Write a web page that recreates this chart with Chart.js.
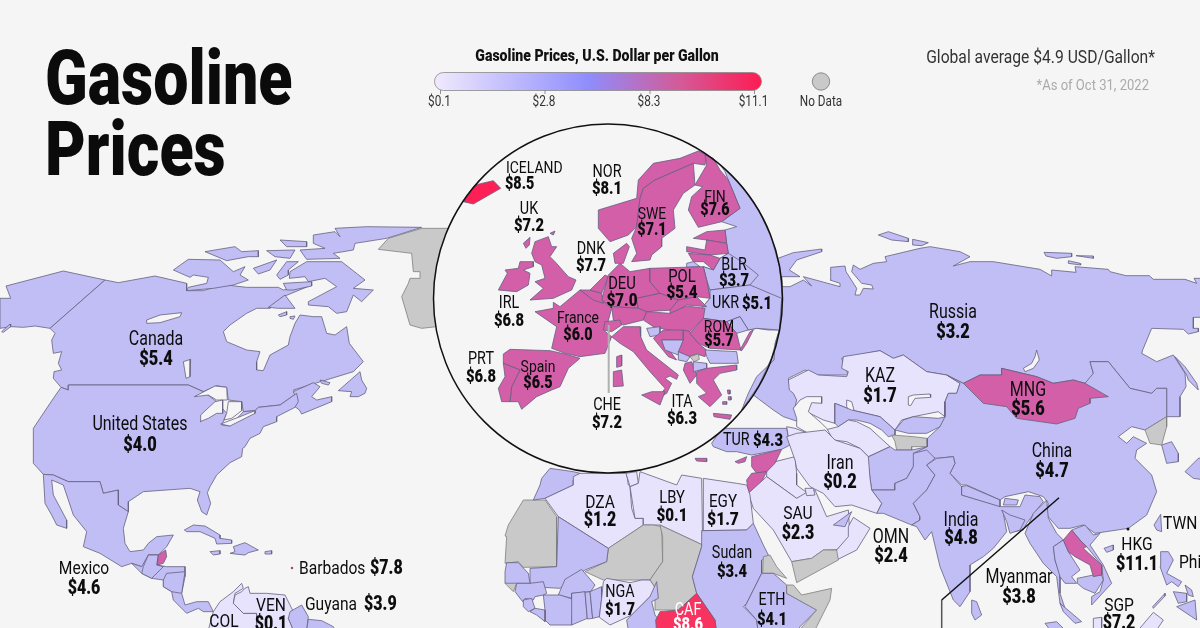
<!DOCTYPE html>
<html>
<head>
<meta charset="utf-8">
<title>Gasoline Prices</title>
<script src="https://cdn.jsdelivr.net/npm/chart.js@4/dist/chart.umd.js"></script>
<style>
  html, body { margin: 0; padding: 0; background: #f5f5f5; }
  canvas { display: block; }
</style>
</head>
<body>
<canvas id="mapChart" width="1200" height="628"></canvas>
<script>
// --- DATA ---
const countries = ['Canada', 'United States', 'Mexico', 'Barbados', 'Guyana', 'VEN', 'COL', 'Russia', 'KAZ', 'MNG', 'China', 'India', 'Iran', 'SAU', 'OMN', 'Myanmar', 'HKG', 'SGP', 'TUR', 'DZA', 'LBY', 'EGY', 'Sudan', 'ETH', 'NGA', 'CAF', 'ICELAND', 'NOR', 'FIN', 'SWE', 'UK', 'DNK', 'BLR', 'DEU', 'POL', 'UKR', 'IRL', 'France', 'ROM', 'PRT', 'Spain', 'CHE', 'ITA'];
const prices = [5.37, 4.0, 4.6, 7.8, 3.9, 0.1, 1.2, 3.2, 1.7, 5.6, 4.7, 4.8, 0.2, 2.3, 2.4, 3.8, 11.1, 7.2, 4.3, 1.2, 0.1, 1.7, 3.4, 4.1, 1.7, 8.6, 8.5, 8.1, 7.6, 7.1, 7.2, 7.7, 3.7, 7.0, 5.42, 5.1, 6.8, 6.0, 5.7, 6.8, 6.5, 7.2, 6.3];
// countries with no label on the picture, price only estimated from the fill
const otherAreas = ['Light area', 'Lavender area', 'Pink area'];
const otherPrices = [1.5, 4.0, 6.5];
const legendTicks = ['$0.1', '$2.8', '$8.3', '$11.1'];
const priceBreaks = [2.8, 5.4, 8.3];

// the outlines are traced on 3x crops, each with its own origin on the 1200x628 map
const sheet = (ox, oy) => flat => {
    const pts = [];
    for (let i = 0; i < flat.length; i += 2) pts.push({ x: ox + flat[i] / 3, y: oy + flat[i + 1] / 3 });
    return pts;
};
const A = sheet(0, 200), B = sheet(420, 130), C = sheet(480, 430), D = sheet(780, 220);
const E = sheet(1000, 480), F = sheet(500, 540), H = sheet(740, 220), I = sheet(1040, 220);

const worldShapes = [
    // North America
    ['Lavender area', A([0,295,32,295,18,258,190,213,315,240,150,385,105,378,70,382,35,380,0,385])],
    ['Lavender area', A([5,395,30,372,32,380,10,397])],
    ['Canada', A([315,240,355,248,465,228,560,250,560,272,610,272,640,262,680,255,740,262,780,262,835,262,850,270,925,255,935,255,850,290,810,325,770,325,740,340,690,375,670,395,680,425,740,450,780,455,770,485,770,510,790,512,810,465,865,435,870,410,885,370,900,345,940,350,965,350,980,400,1005,405,1040,380,1048,430,1090,485,1060,515,880,570,890,580,840,615,775,622,765,632,730,635,725,605,685,600,680,562,650,557,610,575,565,555,205,555,205,570,183,562,160,535,162,515,185,510,175,490,185,455,160,460,155,420,165,400,150,385])],
    ['Canada', A([520,210,565,178,660,180,700,215,735,200,720,225,745,240,700,255,640,265,560,272,565,262,620,250,625,232,580,225,570,232])],
    ['Canada', A([615,155,705,140,725,155,775,152,775,170,745,170,680,182])],
    ['Canada', A([760,205,830,180,810,210,775,222])],
    ['Canada', A([800,152,885,150,870,175,825,170])],
    ['Canada', A([840,120,920,125,920,140,860,140])],
    ['Canada', A([940,105,1005,95,1020,110,1005,85,1100,80,1265,82,1160,115,1065,130,1060,150,1000,160,1020,175,920,178,900,150,975,145,940,130])],
    ['Canada', A([870,215,920,185,1025,185,1095,240,1060,265,1120,270,1085,305,1060,285,1040,335,1010,340,985,320,925,315,925,305,1010,260,975,235,925,245,915,230,868,235])],
    ['Canada', A([830,225,860,185,895,185,865,210,865,225,840,238])],
    ['Canada', A([850,250,935,245,935,258,880,270,860,270])],
    ['Canada', A([805,322,855,285,885,325,835,325])],
    ['Canada', A([835,345,860,335,860,345,840,350])],
    ['Canada', A([870,350,885,348,880,358,870,355])],
    ['Canada', A([1015,572,1080,515,1085,540,1100,565,1095,580,1075,590,1050,590,1055,575])],
    ['Canada', A([880,575,940,548,960,560,935,590,950,600,995,590,995,605,905,642,898,630,885,620,890,600])],
    ['Canada', A([960,540,990,548,985,555,965,550])],
    ['water', A([440,360,480,345,545,338,540,350,480,368,440,370])],
    ['water', A([550,485,572,478,570,530,558,535])],
    ['United States', A([183,562,205,570,205,555,565,555,610,575,650,605,680,640,672,660,665,675,690,678,730,635,765,632,775,622,840,615,890,580,895,605,885,622,830,650,830,665,790,680,780,700,750,715,735,740,728,745,725,770,690,788,650,825,630,860,622,878,632,910,620,945,605,935,592,900,600,875,570,865,500,870,430,875,385,905,385,935,355,915,355,870,310,880,300,845,205,845,160,825,130,823,100,790,100,685,150,610])],
    ['water', A([583,590,645,558,680,562,682,600,650,600,625,585])],
    ['water', A([600,665,602,645,645,605,668,600,668,640,650,640,625,655])],
    ['water', A([685,605,725,605,725,632,695,655,672,660,680,640])],
    ['water', A([662,672,720,650,765,632,765,640,690,678])],
    ['Mexico', A([130,823,160,825,205,845,300,845,310,880,355,870,355,915,385,935,370,985,375,1030,390,1055,430,1050,445,1030,470,1010,520,1005,500,1040,475,1065,445,1065,440,1090,425,1100,395,1090,365,1100,300,1060,250,1040,260,995,220,945,190,855,155,840,160,885,200,960,200,985,170,975,155,945,135,910])],
    ['Lavender area', A([395,1090,425,1100,445,1065,475,1065,470,1095,500,1100,555,1100,555,1130,545,1180,555,1215,590,1205,625,1205,640,1235,610,1235,595,1225,560,1240,520,1200,515,1175,490,1160,490,1140,455,1135,425,1120])],
    ['Lavender area', A([425,1120,430,1100,445,1065,475,1065,470,1095,490,1100,455,1135])],
    ['Lavender area', A([490,1140,500,1120,555,1115,545,1180,515,1175,490,1160])],
    ['Pink area', A([475,1065,497,1050,500,1070,490,1090,472,1095])],
    ['Lavender area', A([553,990,580,975,615,978,660,1005,660,1015,695,1020,695,1030,650,1032,645,1015,600,995,560,995])],
    ['Lavender area', A([700,1040,735,1028,775,1050,745,1058,735,1065,705,1062,690,1060,705,1055])],
    ['Lavender area', A([630,1055,660,1052,660,1062,640,1065])],
    ['Lavender area', A([795,1055,815,1052,815,1062,795,1062])],
    // South America
    ['COL', A([625,1290,640,1235,660,1205,700,1175,725,1150,730,1165,705,1180,700,1210,730,1240,770,1240,770,1290])],
    ['VEN', A([735,1165,745,1160,750,1180,800,1180,855,1185,870,1215,880,1235,865,1255,880,1290,770,1290,770,1240,730,1240,700,1210,705,1185,725,1175])],
    ['Guyana', A([870,1235,905,1215,925,1250,920,1290,880,1290,865,1255])],
    ['Lavender area', A([925,1258,965,1262,1000,1280,1005,1290,920,1290])],
    // Greenland, the rest of it is under the circle
    ['no data', A([1135,148,1165,115,1265,85,1400,85,1400,370,1265,385,1230,375,1205,290,1225,250,1230,235,1260,235,1260,215,1240,215,1235,160])],
    // Russia and its islands
    ['Russia', [...H([100,120,160,98,245,87,245,95,170,120,148,150,180,170,125,170,125,200,150,200,190,180,215,198,190,170,300,200,300,190,270,180,272,142,315,138,318,155,350,205,345,225,360,225,370,205,400,207,395,195,365,190,335,155,340,135,360,148,400,130,440,125,435,110,540,85,570,80]),
        ...D([540,95,570,110,520,138,570,125,640,125,780,148]),
        ...I([35,168,35,150,108,157,105,140,205,148,210,155,258,167,328,167,340,178,435,178,470,190,462,175,480,175,500,175,500,292,460,292,460,325,475,325,475,335,445,342,430,328,335,325,308,390]),
        ...D([1085,400,1130,425,1180,405,1215,460,1218,500,1200,530,1200,590,1160,590,1160,505,1130,505,1115,520,1050,505,985,425,930,425,940,460,935,480,915,490,880,480,820,490,770,470,665,445,665,465,600,465,550,490,500,465,440,455,370,405,340,415,300,392]),
        ...H([305,415,325,465,230,465,195,450,145,475,150,505,190,545,160,565,190,610,130,590,100,570,40,525,0,500,0,120])]],
    ['Russia', H([415,45,445,35,505,55,505,65,455,60])],
    ['Russia', H([518,58,565,68,545,77,518,75])],
    ['Russia', I([12,97,95,100,95,110,50,115,18,108])],
    ['Russia', I([108,107,160,108,160,115])],
    ['Russia', I([85,122,120,130,122,135,85,130])],
    ['Russia', D([1185,410,1215,440,1250,490,1255,510,1225,480,1220,465])],
    ['water', D([770,390,778,420,760,445,735,455,730,445,755,430,765,410])],
    // Central Asia
    ['KAZ', D([25,480,85,450,115,465,200,470,205,455,185,445,190,410,300,392,340,415,370,405,440,455,500,465,540,490,530,520,505,520,495,545,495,590,475,575,400,590,365,600,345,630,300,590,215,570,165,550,165,610,130,600,100,585,45,560,50,540,40,520,28,510])],
    ['water', D([200,540,215,545,222,570,210,578,200,560])],
    ['water', D([385,530,400,525,450,522,452,532,405,535,392,557,385,555])],
    ['Lavender area', D([165,550,215,570,300,590,345,630,345,645,325,650,305,630,270,610,230,600,205,600,175,620,165,610])],
    ['Light area', D([135,630,175,620,205,600,230,605,270,625,330,680,265,710,240,685,200,665,160,660])],
    ['water', D([40,565,60,540,80,530,125,530,125,550,95,548,85,575,125,610,140,625,160,660,155,690,90,665,85,640,50,620,50,595])],
    ['Lavender area', D([345,630,370,600,400,590,475,595,500,590,480,620,440,640,385,640])],
    ['no data', D([335,645,400,650,440,655,442,680,395,680,395,690,350,690,345,665])],
    ['Lavender area', D([262,712,330,680,345,690,395,690,445,680,440,690,405,700,400,740,380,775,345,790,345,810,275,810,270,775])],
    // East and South Asia
    ['China', D([550,490,500,465,540,490,530,520,505,520,495,545,495,590,480,620,442,655,442,680,400,700,470,715,520,710,525,730,510,760,545,795,560,795,660,840,675,830,745,815,790,830,805,850,800,885,835,925,870,925,910,915,945,940,1045,925,1100,885,1130,815,1115,765,1065,715,1070,690,1100,670,1060,650,1040,670,1015,650,1055,620,1095,630,1160,590,1160,505,1130,505,1115,520,1050,505,985,425,930,425,940,460,915,490])],
    ['MNG', D([550,490,600,465,665,465,665,445,770,470,820,490,880,480,915,490,985,530,930,535,930,550,895,565,885,595,830,612,710,595,680,560,610,550])],
    ['no data', D([1095,630,1160,590,1160,620,1145,675,1110,670])],
    ['Lavender area', D([1145,675,1175,665,1195,700,1195,725,1160,730])],
    ['Lavender area', D([1215,755,1255,715,1275,712,1275,780,1240,775])],
    ['Lavender area', D([275,810,345,810,345,790,380,775,400,740,400,700,440,690,465,715,440,735,465,765,440,810,400,850,420,890,420,900,395,915,310,880,290,880,305,850])],
    ['India', D([440,735,470,715,520,710,525,730,510,760,545,800,545,825,665,860,720,860,735,825,780,830,790,845,770,870,740,910,730,930,700,935,690,890,670,880,680,935,640,985,610,1010,570,1035,570,1115,540,1160,520,1140,480,1040,455,935,435,960,410,920,395,915,420,900,420,890,400,850,440,810,465,765])],
    ['Lavender area', D([545,800,560,797,660,840,660,860,545,825])],
    ['Lavender area', D([675,835,715,840,710,855,670,855])],
    ['Lavender area', D([665,870,690,885,735,900,720,930,690,940,680,905])],
    ['Lavender area', D([575,1140,590,1145,605,1185,585,1200,575,1180])],
    ['Myanmar', E([100,100,140,60,145,115,170,160,190,180,160,200,165,240,180,285,180,340,200,400,180,370,170,290,130,250,90,190,75,160])],
    ['Lavender area', E([160,200,190,180,205,215,240,270,215,290,230,310,195,310,180,290,165,240])],
    ['Lavender area', E([180,370,245,425,225,430,190,395])],
    ['Lavender area', E([215,150,255,135,280,165,300,160,270,195,310,255,335,310,275,375,275,350,300,335,310,300,305,255,260,200,240,180])],
    ['Lavender area', E([232,295,280,285,305,285,310,300,285,340,250,325,232,310])],
    ['Pink area', E([190,180,215,150,240,180,260,200,250,205,305,255,305,285,280,290,270,255,225,230,205,215])],
    ['Lavender area', E([312,205,340,195,340,210,320,217])],
    ['Lavender area', E([462,135,482,103,485,155,470,150])],
    ['Lavender area', E([482,215,505,215,520,240,500,280,545,305,535,320,515,305,500,315,480,260])],
    ['Lavender area', E([520,335,560,340,560,365,535,370])],
    ['Lavender area', E([555,315,575,330,580,350,565,345])],
    ['Lavender area', E([530,380,585,360,590,420,575,410])],
    ['Lavender area', E([458,380,495,340,495,348,460,385])],
    ['Light area', E([415,450,460,397,490,420,470,450])],
    ['Light area', E([280,450,280,415,305,412,305,450])],
    ['Lavender area', E([135,430,170,425,195,450,150,450])],
    // Middle East
    ['TUR', C([695,40,725,-5,920,-5,930,45,905,58,815,75,770,65,740,65,700,50])],
    ['Light area', D([20,620,45,625,85,640,50,655,25,650])],
    ['Light area', C([860,125,885,95,945,80,950,130,950,165,990,195,975,195,950,205,860,140])],
    ['Iran', D([20,650,50,640,135,630,165,660,240,685,265,710,270,775,275,810,305,850,290,880,215,855,165,860,130,820,100,805,90,800,50,745,45,720])],
    ['Pink area', C([815,80,905,58,885,100,860,125,830,130,815,110])],
    ['Pink area', C([815,130,860,125,835,175,805,190,800,150])],
    ['SAU', C([805,190,860,140,950,205,975,190,1005,180,1040,260,1105,240,1110,320,1070,360,1030,360,995,385,935,395,880,300,820,235])],
    ['Lavender area', C([1060,285,1115,245,1095,290])],
    ['OMN', C([1120,262,1170,295,1130,360,1070,390,1030,362,1070,360,1105,320,1105,290])],
    ['no data', C([935,395,995,385,1030,360,1070,360,1075,390,950,458])],
    ['Light area', C([975,175,1000,175,1005,195,980,197])],
    ['Pink area', C([765,95,800,80,795,95,775,100])],
    ['Pink area', C([645,85,680,85,680,95,650,93])],
    // Africa
    ['no data', C([75,318,85,285,130,210,195,210,230,260,230,410,130,412,115,395,75,400,80,320])],
    ['Lavender area', C([160,210,180,165,185,145,210,115,280,125,300,130,280,150,280,165,195,205])],
    ['DZA', C([195,205,280,165,280,140,300,130,440,130,445,165,450,170,455,235,465,265,490,265,490,285,385,355,235,260])],
    ['Light area', C([438,130,470,125,475,160,450,170])],
    ['LBY', C([480,125,590,165,605,135,665,145,668,345,540,285,490,285,490,265,465,265,450,170,475,160])],
    ['EGY', C([670,145,770,160,800,165,810,195,820,280,800,300,670,302])],
    ['no data', C([385,355,490,285,520,285,545,290,548,395,520,435,510,450,370,450,315,425,380,395])],
    ['no data', C([540,285,668,345,665,350,637,440,650,490,595,540,525,540,525,510,510,450,520,435,548,395,548,320])],
    ['Lavender area', C([235,260,385,355,380,395,315,420,240,475,150,470,150,415,230,410])],
    ['Lavender area', F([15,95,20,68,55,68,85,100,90,130,15,130])],
    ['no data', F([15,130,50,130,40,155])],
    ['Lavender area', F([50,130,90,130,130,125,140,160,130,165,105,170,100,180,75,175,68,185,45,155])],
    ['Lavender area', F([175,165,195,118,245,88,285,135,272,155,215,160,215,175])],
    ['Lavender area', F([130,165,180,165,220,178,215,255,150,255,135,240,135,210])],
    ['Lavender area', F([70,180,95,175,105,205,85,215,70,200])],
    ['Lavender area', F([90,215,105,205,135,210,135,245,110,225])],
    ['Lavender area', F([215,160,255,155,262,235,215,255])],
    ['Lavender area', F([255,157,270,155,278,235,262,237])],
    ['Lavender area', F([270,155,305,140,305,175,298,230,278,235])],
    ['NGA', F([310,125,320,115,390,128,425,120,450,120,470,150,450,170,395,225,330,255,298,232,305,175])],
    ['Lavender area', F([470,125,475,175,455,185,465,225,500,270,385,270,380,240,395,225,450,170])],
    ['Sudan', C([665,302,800,300,820,280,850,345,865,375,845,390,845,430,800,520,790,530,830,570,835,610,710,610,705,570,650,490,637,440,665,350])],
    ['CAF', C([527,570,540,545,595,540,650,490,705,570,710,610,530,610])],
    ['no data', C([850,380,870,375,890,410,920,445,880,430,848,430])],
    ['ETH', C([800,520,845,430,880,430,920,465,920,490,1010,540,960,590,950,610,835,610,830,570,795,530])],
    ['no data', C([920,465,940,465,965,495,1055,475,1050,510,1010,590,1000,610,950,610,1010,540,920,490])]
];

// everything inside the round Europe inset
const insetShapes = [
    ['Russia', B([900,103,915,125,925,150,960,235,905,275,950,290,915,300,920,340,925,370,900,385,880,420,850,410,860,450,870,505,840,540,850,565,920,575,960,560,985,600,1010,595,1045,600,1078,600,1065,640,1062,690,1010,740,985,790,965,840,1017,765,1055,683,1079,595,1087,504,1079,413,1055,325,1017,242,965,168])],
    ['BLR', B([850,410,880,420,900,385,925,370,965,395,1015,435,990,465,950,470,870,480,860,450])],
    ['UKR', B([870,480,950,470,990,465,1085,505,1078,600,1010,595,985,600,960,560,920,575,850,565,840,540,870,505])],
    ['ICELAND', B([130,215,165,165,220,152,242,175,160,222])],
    ['NOR', B([535,240,650,205,655,150,700,100,780,85,835,63,860,75,855,105,820,100,705,150,670,175,660,205,650,290,625,315,570,335,535,295])],
    ['SWE', B([660,205,670,175,705,150,820,100,825,165,790,190,760,240,765,295,725,325,725,350,695,375,690,390,635,395,650,370,635,325,650,290])],
    ['FIN', B([825,165,860,105,855,75,880,85,900,120,925,150,960,235,905,275,835,292,805,240,815,200,848,170])],
    ['Pink area', B([820,325,860,305,915,300,920,340,860,330])],
    ['Pink area', B([800,350,855,360,860,330,920,340,925,370,870,375,800,365])],
    ['Pink area', B([805,370,870,375,900,385,880,420,850,395,820,395])],
    ['Lavender area', B([800,400,820,395,840,410,800,412])],
    ['DNK', B([580,370,620,340,628,350,610,400,585,400])],
    ['UK', B([335,370,345,335,385,320,395,350,410,350,390,380,405,395,445,440,468,450,455,480,400,505,330,510,370,475,345,455,375,445,365,405,345,395])],
    ['UK', B([310,340,330,322,328,345,318,355])],
    ['UK', B([390,310,405,303,400,315])],
    ['IRL', B([235,480,262,430,255,420,295,415,300,395,340,395,340,410,310,420,330,430,325,465,290,485])],
    ['France', B([345,545,400,535,400,517,420,530,480,480,545,510,575,535,560,590,550,600,575,620,555,670,480,680,435,670,395,655,410,590])],
    ['Spain', B([250,672,270,658,390,662,435,672,480,685,445,715,420,770,395,780,350,800,305,838,295,815,270,815,275,770,300,720,250,700])],
    ['PRT', B([250,700,300,720,275,770,270,815,245,815,235,775,255,740])],
    ['Pink area', B([480,480,510,480,545,490,550,520,520,510])],
    ['Pink area', B([510,480,555,435,565,440,545,490])],
    ['DEU', B([565,435,600,400,630,425,690,415,690,455,720,490,650,505,655,535,575,530,545,510,550,490])],
    ['POL', B([690,415,850,410,860,450,870,505,830,500,775,510,720,490,690,455])],
    ['Pink area', B([650,505,720,490,775,510,760,540,680,545,655,535])],
    ['Pink area', B([575,530,655,535,680,545,670,570,610,585,580,570])],
    ['CHE', B([555,575,600,570,605,585,575,605,550,600])],
    ['Pink area', B([750,540,775,510,830,500,860,530,800,525,750,555])],
    ['Pink area', B([670,570,680,545,750,550,800,528,855,535,850,565,810,605,745,600,700,590])],
    ['ITA', B([575,620,610,590,660,590,662,620,680,660,775,735,770,748,750,738,735,745,755,760,740,790,715,805,735,775,690,725,640,665,600,640])],
    ['ITA', B([665,795,695,785,735,785,720,825])],
    ['ITA', B([580,725,605,720,610,768,580,770])],
    ['France', B([590,680,605,675,605,708,590,712])],
    ['Lavender area', B([680,595,720,590,720,615,690,620])],
    ['Pink area', B([700,625,730,600,790,600,790,630,760,630,725,630,770,690,745,680])],
    ['Lavender area', B([725,630,790,630,775,675,735,660])],
    ['Pink area', B([790,600,810,605,835,640,860,660,855,680,830,672,805,680,775,665,790,630])],
    ['Lavender area', B([775,665,810,680,800,695,775,690])],
    ['no data', B([810,680,835,672,838,688,822,695])],
    ['Pink area', B([795,700,815,695,830,735,810,760,790,720])],
    ['Lavender area', B([820,695,860,700,860,715,820,725])],
    ['Lavender area', B([855,660,950,665,955,700,870,700,860,680])],
    ['Pink area', B([830,725,860,715,950,705,950,720,900,730,880,750,905,795,870,830,835,800,860,790,830,760])],
    ['Pink area', B([880,850,935,855,930,868,882,860])],
    ['Pink area', B([922,780,930,780,930,792,924,792])],
    ['Pink area', B([925,800,933,800,933,810,925,810])],
    ['Pink area', B([908,815,920,815,920,823,908,823])],
    ['Lavender area', B([920,575,960,560,985,600,950,610])],
    ['ROM', B([810,610,850,565,920,575,950,610,960,650,965,660,870,655,835,640])],
    ['Pink area', B([960,660,990,605,1000,600,980,640,965,662])]
];

// map position of the two tiny markers
const barbadosDot = [{ x: 292, y: 568 }];
const hongKongDot = [{ x: 1128, y: 529 }];
const insetCentre = [{ x: 608, y: 298.5 }];
const cheLeader = [{ x: 608.7, y: 325 }, { x: 608.7, y: 393 }];
const myanmarLeader = [{ x: 1059, y: 497.7 }, { x: 941.7, y: 600 }];
const myanmarStem = [{ x: 941.7, y: 600 }, { x: 941.7, y: 640 }];

// --- LABEL PLACES: name centre x, name y, price y, font size ---
const labelPlaces = {
    'Canada': [156, 340, 360, 19.5], 'United States': [140, 425, 446, 19.5], 'Mexico': [84, 569, 589, 19],
    'VEN': [271, 606, 625, 19], 'COL': [224, 622, 643, 19], 'Russia': [953, 313, 333, 19.5], 'KAZ': [880, 377, 397, 19.5],
    'MNG': [1028, 391, 410, 19.5], 'China': [1052, 452, 472, 19.5], 'India': [961, 521, 539, 19.5], 'Iran': [840, 464, 483, 19.5],
    'SAU': [798, 514, 534, 19], 'OMN': [891, 538, 557, 19.5], 'Myanmar': [1019, 578, 598, 19.5], 'HKG': [1137, 545, 565, 19],
    'SGP': [1119, 606, 624, 19], 'DZA': [600, 503, 521, 19], 'LBY': [672, 498, 516, 18], 'EGY': [723, 502, 520, 18.5],
    'Sudan': [732, 554, 572, 17.5], 'ETH': [772, 601, 620, 17.5], 'NGA': [620, 593, 610, 17.5], 'CAF': [688, 611, 625, 17.5],
    'NOR': [607, 173, 189, 17.5], 'FIN': [715, 198, 211, 17], 'SWE': [652, 215, 231, 17], 'UK': [529, 210, 226, 17.5],
    'DNK': [591, 250, 266, 17.5], 'BLR': [734, 266, 281, 17.5], 'DEU': [622, 284, 301, 18], 'POL': [682, 277, 293, 18],
    'IRL': [509, 304, 321, 17.5], 'France': [578, 319, 336, 17], 'ROM': [719, 328, 342, 17], 'PRT': [481, 360, 377, 17.5],
    'Spain': [538, 368, 384, 17], 'CHE': [607, 406, 423, 17.5], 'ITA': [682, 403, 419, 17.5]
};
// name and price on one row: name left x, price left x, y, font size
const rowPlaces = {
    'Barbados': [299, 370, 569, 19], 'Guyana': [305, 364, 605, 19], 'TUR': [723, 753, 441, 17.5], 'UKR': [712, 742, 304, 17.5]
};

// --- HELPERS ---
function priceOf(name) {
    const i = countries.indexOf(name);
    if (i >= 0) return prices[i];
    return otherPrices[otherAreas.indexOf(name)];
}

function fillFor(name) {
    if (name === 'water') return '#f5f5f5';
    if (name === 'no data') return '#c9c9c9';
    const p = priceOf(name);
    if (p >= priceBreaks[2]) return name === 'ICELAND' ? '#ff1f57' : '#f9335f';
    if (p >= priceBreaks[1]) return '#d25fa8';
    if (p >= priceBreaks[0]) return '#c0bef4';
    return '#e7e3fc';
}

function polygonDataset(shape) {
    const [name, pts] = shape;
    return {
        data: [...pts, pts[0]],
        showLine: true,
        fill: 'shape',
        tension: 0,
        pointRadius: 0,
        backgroundColor: fillFor(name),
        borderColor: name === 'no data' ? '#7d7d7d' : '#64607f',
        borderWidth: 0.8
    };
}

function markerDataset(pts, colour, radius) {
    return { data: pts, showLine: false, pointRadius: radius, backgroundColor: colour, borderColor: colour, borderWidth: 0 };
}

function leaderDataset(pts, colour, width) {
    return { data: pts, showLine: true, fill: false, pointRadius: 0, borderColor: colour, borderWidth: width };
}

function narrowText(ctx, text, x, y, font, colour, align, squeeze) {
    ctx.save();
    ctx.font = font;
    ctx.fillStyle = colour;
    ctx.textAlign = align;
    ctx.textBaseline = 'middle';
    ctx.translate(x, y);
    ctx.scale(squeeze, 1);
    ctx.fillText(text, 0, 0);
    ctx.restore();
}

// --- PLUGIN FOR TITLE, LEGEND AND PRICE LABELS ---
const mapText = {
    id: 'mapText',
    afterDatasetsDraw(chart) {
        const ctx = chart.ctx;
        const sx = chart.scales.x, sy = chart.scales.y;
        const nameFont = size => `400 ${size}px Roboto`;
        const priceFont = size => `900 ${size + 0.5}px Roboto`;

        narrowText(ctx, 'Gasoline', 45, 85, '900 76px Roboto', '#0b0b0b', 'left', 0.825);
        narrowText(ctx, 'Prices', 45, 156, '900 76px Roboto', '#0b0b0b', 'left', 0.825);
        narrowText(ctx, 'Global average $4.9 USD/Gallon*', 1155, 58, '400 18px Roboto', '#333333', 'right', 0.87);
        narrowText(ctx, '*As of Oct 31, 2022', 1149, 86, '400 14.5px Roboto', '#aaaaaa', 'right', 0.9);

        // legend
        narrowText(ctx, 'Gasoline Prices, U.S. Dollar per Gallon', 597, 57, '900 16px Roboto', '#111111', 'center', 0.88);
        const grad = ctx.createLinearGradient(434, 0, 762, 0);
        grad.addColorStop(0, '#f1eafe');
        grad.addColorStop(0.47, '#8f8dfd');
        grad.addColorStop(0.75, '#d45a98');
        grad.addColorStop(1, '#ff1b52');
        ctx.beginPath();
        ctx.roundRect(434.5, 72.5, 327, 18, 9);
        ctx.fillStyle = grad;
        ctx.fill();
        ctx.strokeStyle = '#8a8a8a';
        ctx.lineWidth = 0.8;
        ctx.stroke();
        ctx.strokeStyle = '#777777';
        [440.5, 545, 650, 754.5].forEach((tx, i) => {
            ctx.beginPath();
            ctx.moveTo(tx, 90);
            ctx.lineTo(tx, 94);
            ctx.stroke();
            narrowText(ctx, legendTicks[i], tx - 1, 102, '400 14px Roboto', '#333333', 'center', 0.84);
        });
        ctx.beginPath();
        ctx.arc(821, 81.5, 8.7, 0, Math.PI * 2);
        ctx.fillStyle = '#c9c9c9';
        ctx.fill();
        ctx.strokeStyle = '#777777';
        ctx.stroke();
        narrowText(ctx, 'No Data', 821, 102, '400 14px Roboto', '#333333', 'center', 0.84);

        // price labels
        Object.keys(labelPlaces).forEach(name => {
            const [x, yName, yPrice, size] = labelPlaces[name];
            const colour = name === 'CAF' ? '#ffffff' : '#0d0d0d';
            narrowText(ctx, name, sx.getPixelForValue(x), sy.getPixelForValue(yName), nameFont(size), colour, 'center', 0.82);
            narrowText(ctx, '$' + priceOf(name).toFixed(1), sx.getPixelForValue(x), sy.getPixelForValue(yPrice), priceFont(size), colour, 'center', 0.82);
        });
        Object.keys(rowPlaces).forEach(name => {
            const [xName, xPrice, y, size] = rowPlaces[name];
            narrowText(ctx, name, sx.getPixelForValue(xName), sy.getPixelForValue(y), nameFont(size), '#0d0d0d', 'left', 0.82);
            narrowText(ctx, '$' + priceOf(name).toFixed(1), sx.getPixelForValue(xPrice), sy.getPixelForValue(y), priceFont(size), '#0d0d0d', 'left', 0.82);
        });
        narrowText(ctx, 'ICELAND', sx.getPixelForValue(506), sy.getPixelForValue(169), nameFont(17), '#0d0d0d', 'left', 0.82);
        narrowText(ctx, '$' + priceOf('ICELAND').toFixed(1), sx.getPixelForValue(505), sy.getPixelForValue(185), priceFont(17), '#0d0d0d', 'left', 0.82);
        narrowText(ctx, 'TWN', sx.getPixelForValue(1163), sy.getPixelForValue(524), nameFont(19), '#0d0d0d', 'left', 0.82);
        narrowText(ctx, 'Philippines', sx.getPixelForValue(1179), sy.getPixelForValue(563), nameFont(19), '#0d0d0d', 'left', 0.82);
    }
};

// --- BUILD ---
const layers = [
    ...worldShapes.map(polygonDataset),
    markerDataset(insetCentre, '#f5f5f5', 174.5),
    ...insetShapes.map(polygonDataset),
    markerDataset(barbadosDot, '#a0417f', 1.2),
    markerDataset(hongKongDot, '#111111', 1.5),
    leaderDataset(cheLeader, '#b0b0b0', 2),
    leaderDataset(myanmarLeader, '#111111', 1.5),
    leaderDataset(myanmarStem, '#555555', 1.5),
    { data: insetCentre, showLine: false, pointRadius: 174.5, backgroundColor: 'rgba(0,0,0,0)', borderColor: '#111111', borderWidth: 1.5 }
];
layers.forEach((d, i) => { d.order = layers.length - i; d.clip = false; });

new Chart(document.getElementById('mapChart'), {
    type: 'scatter',
    data: { datasets: layers },
    options: {
        responsive: false,
        animation: false,
        events: [],
        layout: { padding: 0, autoPadding: false },
        scales: {
            x: { type: 'linear', min: 0, max: 1200, display: false },
            y: { type: 'linear', min: 0, max: 628, reverse: true, display: false }
        },
        plugins: { legend: { display: false }, tooltip: { enabled: false } }
    },
    plugins: [mapText]
});
</script>
</body>
</html>
